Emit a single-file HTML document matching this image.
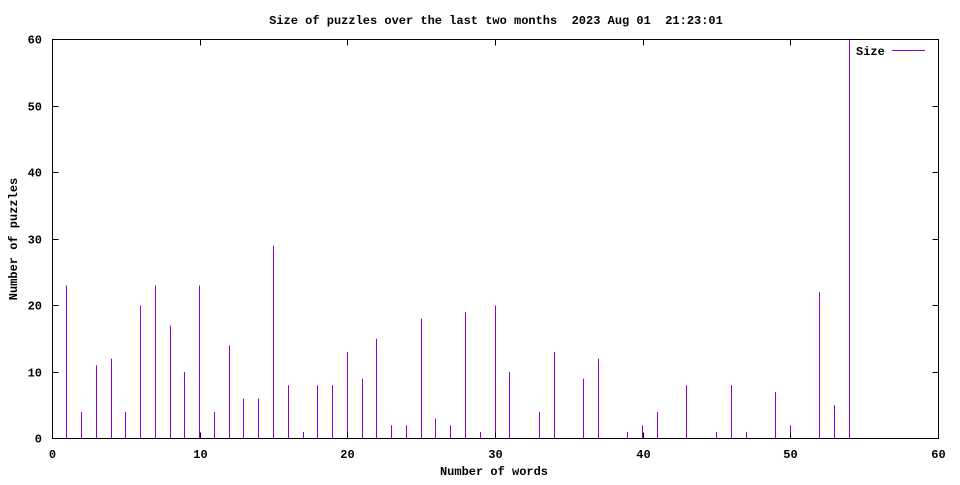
<!DOCTYPE html>
<html><head><style>body{margin:0;background:#fff}svg text{font-family:"Liberation Mono",monospace;font-size:12px;font-weight:bold}</style></head>
<body>
<svg width="960" height="480" xmlns="http://www.w3.org/2000/svg">
<rect width="960" height="480" fill="#fff"/>
<text x="496" y="24" text-anchor="middle" style="white-space:pre">Size of puzzles over the last two months&#160; 2023 Aug 01&#160; 21:23:01</text>
<g id="bars" stroke="#9400d3" stroke-width="1"></g>
<rect x="52.5" y="39.5" width="886" height="399" fill="none" stroke="#000"/>
<g id="ticks" stroke="#000"></g>
<g id="labels"></g>
<text x="856" y="55">Size</text>
<line x1="892" y1="50.5" x2="925" y2="50.5" stroke="#9400d3"/>
<text x="494" y="475" text-anchor="middle">Number of words</text>
<text transform="translate(17,239) rotate(-90)" text-anchor="middle">Number of puzzles</text>
</svg>
<script>
var d={1:23,2:4,3:11,4:12,5:4,6:20,7:23,8:17,9:10,10:23,11:4,12:14,13:6,14:6,15:29,16:8,17:1,18:8,19:8,20:13,21:9,22:15,23:2,24:2,25:18,26:3,27:2,28:19,29:1,30:20,31:10,33:4,34:13,36:9,37:12,39:1,40:2,41:4,43:8,45:1,46:8,47:1,49:7,50:2,52:22,53:5,54:60};
var ns="http://www.w3.org/2000/svg",b=document.getElementById('bars'),t=document.getElementById('ticks'),l=document.getElementById('labels');
function X(v){return 52.5+v*886/60}function Y(v){return 438.5-v*399/60}
function ln(g,a,b2,c,e){var n=document.createElementNS(ns,'line');n.setAttribute('x1',a);n.setAttribute('y1',b2);n.setAttribute('x2',c);n.setAttribute('y2',e);g.appendChild(n);}
function tx(s,x,y,a){var n=document.createElementNS(ns,'text');n.setAttribute('x',x);n.setAttribute('y',y);n.setAttribute('text-anchor',a);n.textContent=s;l.appendChild(n);}
for(var k in d){var x=Math.round(X(+k)-1)+0.5;ln(b,x,438.5,x,Math.max(39.5,Y(d[k])));}
for(var i=0;i<=60;i+=10){var x=Math.round(X(i)-0.5)+0.5;ln(t,x,438.5,x,432.5);ln(t,x,39.5,x,45.5);tx(i,x,458,'middle');
var y=Math.round(Y(i)-0.5)+0.5;ln(t,52.5,y,58.5,y);ln(t,938.5,y,932.5,y);tx(i,42,y+4,'end');}
</script>
</body></html>
